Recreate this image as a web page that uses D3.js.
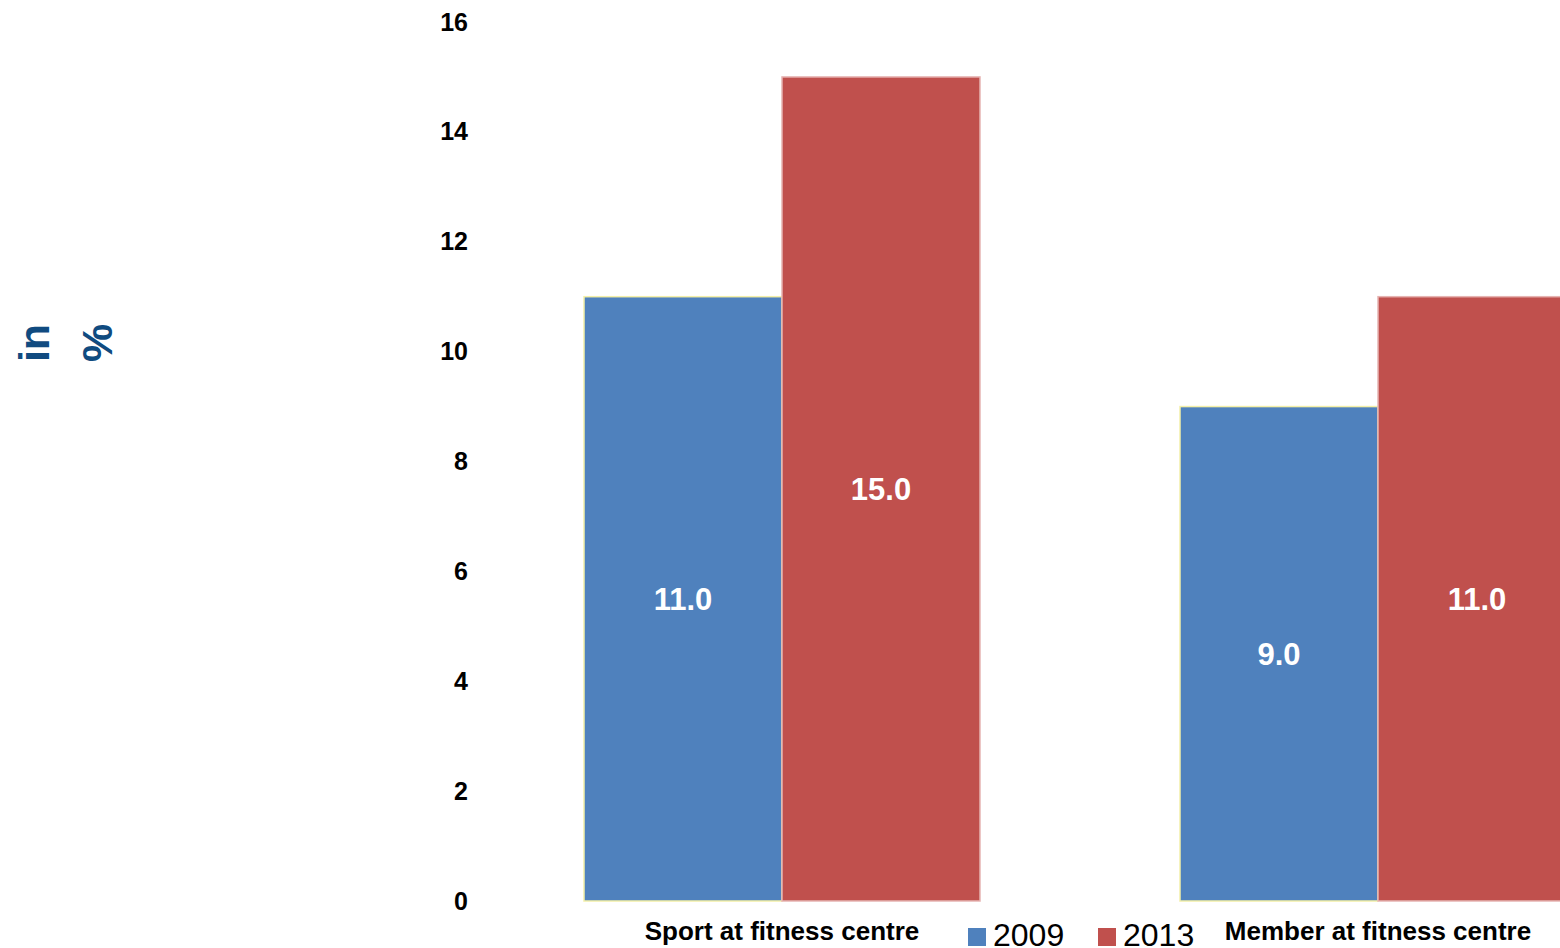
<!DOCTYPE html>
<html>
<head>
<meta charset="utf-8">
<script src="https://cdn.jsdelivr.net/npm/d3@7/dist/d3.min.js"></script>
<style>
  html, body { margin: 0; padding: 0; background: #fff; overflow: hidden; }
  svg { display: block; font-family: "Liberation Sans", Arial, sans-serif; }
</style>
</head>
<body>
<svg id="chart" width="1560" height="948"></svg>
<script>
// Share of people doing sport at / being members of a fitness centre
const categories = ["Sport at fitness centre", "Member at fitness centre"];
const seriesNames = ["2009", "2013"];
const values2009 = [11.0, 9.0];
const values2013 = [15.0, 11.0];
const yTicks = [0, 2, 4, 6, 8, 10, 12, 14, 16];
const colors = ["#4f81bd", "#c0504d"];
const strokes = ["#f3f0a8", "#e6b4b2"];

const seriesValues = [values2009, values2013];
const rows = categories.map((c, i) => ({
  category: c,
  bars: seriesNames.map((s, j) => ({ series: s, value: seriesValues[j][i], idx: j }))
}));

const svg = d3.select("#chart");

const y = d3.scaleLinear().domain([0, 16]).range([901, 22]);

const inner = 200 / 596;
const x0 = d3.scaleBand()
  .domain(categories)
  .range([484, 1676])
  .paddingInner(inner)
  .paddingOuter(inner / 2);

const x1 = d3.scaleBand()
  .domain(seriesNames)
  .range([0, x0.bandwidth()]);

// Y axis: labels only, no domain line or ticks
const yAxis = svg.append("g")
  .attr("transform", "translate(468,0)")
  .call(d3.axisLeft(y).tickValues(yTicks).tickSize(0).tickPadding(0));
yAxis.select(".domain").remove();
yAxis.selectAll("text")
  .attr("fill", "#000")
  .attr("font-size", 25)
  .attr("font-weight", "bold")
  .attr("font-family", "Liberation Sans, Arial, sans-serif");

// Y axis title, two rotated lines
const titleLines = ["in", "%"];
svg.append("g")
  .selectAll("text")
  .data(titleLines)
  .join("text")
  .attr("transform", (d, i) => `translate(${49 + i * 63},343) rotate(-90)`)
  .attr("text-anchor", "middle")
  .attr("font-size", 43)
  .attr("font-weight", "bold")
  .attr("fill", "#104b80")
  .text(d => d);

// Bars
const groups = svg.append("g")
  .selectAll("g")
  .data(rows)
  .join("g")
  .attr("transform", d => `translate(${x0(d.category)},0)`);

groups.selectAll("rect")
  .data(d => d.bars)
  .join("rect")
  .attr("x", d => x1(d.series))
  .attr("y", d => y(d.value))
  .attr("width", x1.bandwidth())
  .attr("height", d => y(0) - y(d.value))
  .attr("fill", d => colors[d.idx])
  .attr("stroke", d => strokes[d.idx])
  .attr("stroke-width", 1.5);

// Value labels centred in each bar
groups.selectAll("text.value")
  .data(d => d.bars)
  .join("text")
  .attr("class", "value")
  .attr("x", d => x1(d.series) + x1.bandwidth() / 2)
  .attr("y", d => y(d.value / 2))
  .attr("dy", "0.35em")
  .attr("text-anchor", "middle")
  .attr("font-size", 31)
  .attr("font-weight", "bold")
  .attr("fill", "#fff")
  .text(d => d.value.toFixed(1));

// Category labels
svg.append("g")
  .selectAll("text")
  .data(categories)
  .join("text")
  .attr("x", d => x0(d) + x0.bandwidth() / 2)
  .attr("y", 940)
  .attr("text-anchor", "middle")
  .attr("font-size", 26)
  .attr("font-weight", "bold")
  .attr("fill", "#000")
  .text(d => d);

// Legend
const legend = svg.append("g")
  .selectAll("g")
  .data(seriesNames)
  .join("g")
  .attr("transform", (d, i) => `translate(${968 + i * 130},928)`);
legend.append("rect")
  .attr("width", 18)
  .attr("height", 18)
  .attr("fill", (d, i) => colors[i]);
legend.append("text")
  .attr("x", 25)
  .attr("y", 18)
  .attr("font-size", 32)
  .attr("fill", "#000")
  .text(d => d);
</script>
</body>
</html>
